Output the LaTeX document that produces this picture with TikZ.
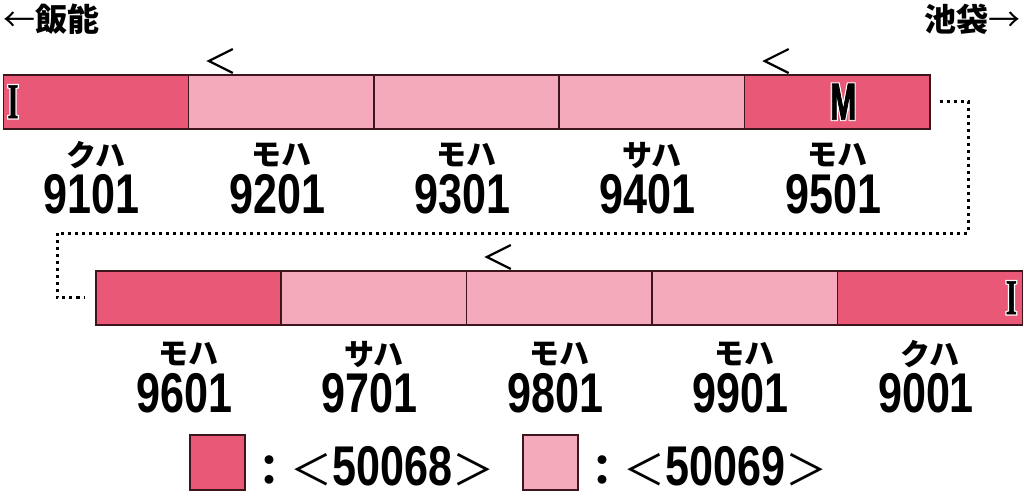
\documentclass[tikz,border=0pt]{standalone}
\usepackage{fontspec}
\usepackage{tikz}
\usepackage{xcolor}

\newfontfamily\jpfont{Noto Sans CJK JP}
\newfontfamily\numfont[FakeStretch=0.77]{Liberation Sans}
\newfontfamily\markfont[FakeStretch=0.6,FakeBold=1.5]{Liberation Sans}
\newfontfamily\markhalo[FakeStretch=0.6,FakeBold=6]{Liberation Sans}
\newfontfamily\serfont[FakeStretch=0.55,FakeBold=1]{Liberation Serif}
\newfontfamily\serhalo[FakeStretch=0.55,FakeBold=6]{Liberation Serif}

\definecolor{mcar}{RGB}{234,88,120}
\definecolor{tcar}{RGB}{244,170,186}
\definecolor{edge}{RGB}{60,22,28}

\newcommand{\carno}[1]{{\numfont\bfseries\fontsize{56}{56}\selectfont #1}}
\newcommand{\rim}[2]{\rlap{\textcolor{white}{#1}}#2}

\begin{document}
\begin{tikzpicture}[x=1pt,y=-1pt,
  car/.style={draw=edge,line width=1.5pt,minimum width=185.3pt,minimum height=54pt,inner sep=0pt,anchor=north west},
  kana/.style={font=\jpfont\bfseries\fontsize{30}{30}\selectfont,inner sep=0pt},
  carnum/.style={inner sep=0pt},
  dirmark/.style={line width=2.2pt},
  link/.style={line width=3pt,dash pattern=on 3pt off 4pt},
  keybox/.style={draw=edge,line width=1.5pt,minimum width=55pt,minimum height=55pt,inner sep=0pt}]

\useasboundingbox (0,0) rectangle (1024,499);

\node[anchor=west,inner sep=0pt] (hanno) at (3,19) {\jpfont\fontsize{32}{32}\selectfont ←{\bfseries 飯能}};
\node[anchor=east,inner sep=0pt] (ikebukuro) at (1021,19) {\jpfont\fontsize{32}{32}\selectfont {\bfseries 池袋}→};

\foreach \num/\kind/\col [count=\i from 0] in {9101/クハ/mcar,9201/モハ/tcar,9301/モハ/tcar,9401/サハ/tcar,9501/モハ/mcar}{
  \node[car,fill=\col] (c\num) at (2.5+185.3*\i,74) {};
  \node[kana] (k\num) at ([yshift=-25.5pt]c\num.south) {\kind};
  \node[carnum] (n\num) at ([xshift=-4pt,yshift=-64.5pt]c\num.south) {\carno{\num}};
}

\foreach \num/\kind/\col [count=\i from 0] in {9601/モハ/mcar,9701/サハ/tcar,9801/モハ/tcar,9901/モハ/tcar,9001/クハ/mcar}{
  \node[car,fill=\col] (c\num) at (95+185.4*\i,270) {};
  \node[kana] (k\num) at ([yshift=-28.5pt]c\num.south) {\kind};
  \node[carnum] (n\num) at ([xshift=-4pt,yshift=-68pt]c\num.south) {\carno{\num}};
}

\node[inner sep=0pt] (ifront) at ([xshift=10.5pt]c9101.west) {\fontsize{50}{50}\selectfont\rim{\serhalo\bfseries I}{\serfont\bfseries I}};
\node[inner sep=0pt] (motor) at ([xshift=99.5pt]c9501.west) {\fontsize{52}{52}\selectfont\rim{\markhalo\bfseries M}{\markfont\bfseries M}};
\node[inner sep=0pt] (irear) at ([xshift=-12pt]c9001.east) {\fontsize{50}{50}\selectfont\rim{\serhalo\bfseries I}{\serfont\bfseries I}};

\draw[dirmark] ([shift={(45,-25)}]c9201.north west) -- ++(-24,12) -- ++(24,12);
\draw[dirmark] ([shift={(45,-25)}]c9501.north west) -- ++(-24,12) -- ++(24,12);
\draw[dirmark] ([shift={(45,-25)}]c9801.north west) -- ++(-24,12) -- ++(24,12);

\draw[link] ([xshift=9pt]c9501.east) -| (968,233) -- (57,233) |- ([xshift=-10pt]c9601.west);

\node[keybox,fill=mcar] (key68) at (217.5,462.5) {};
\node[anchor=base west,inner sep=0pt] (lab68) at ([xshift=3pt,yshift=-22.5pt]key68.east)
  {{\jpfont\fontsize{42}{42}\selectfont{\bfseries ：}＜}\carno{50068}{\jpfont\fontsize{42}{42}\selectfont ＞}};
\node[keybox,fill=tcar] (key69) at (550.5,462.5) {};
\node[anchor=base west,inner sep=0pt] (lab69) at ([xshift=3pt,yshift=-22.5pt]key69.east)
  {{\jpfont\fontsize{42}{42}\selectfont{\bfseries ：}＜}\carno{50069}{\jpfont\fontsize{42}{42}\selectfont ＞}};

\end{tikzpicture}
\end{document}
